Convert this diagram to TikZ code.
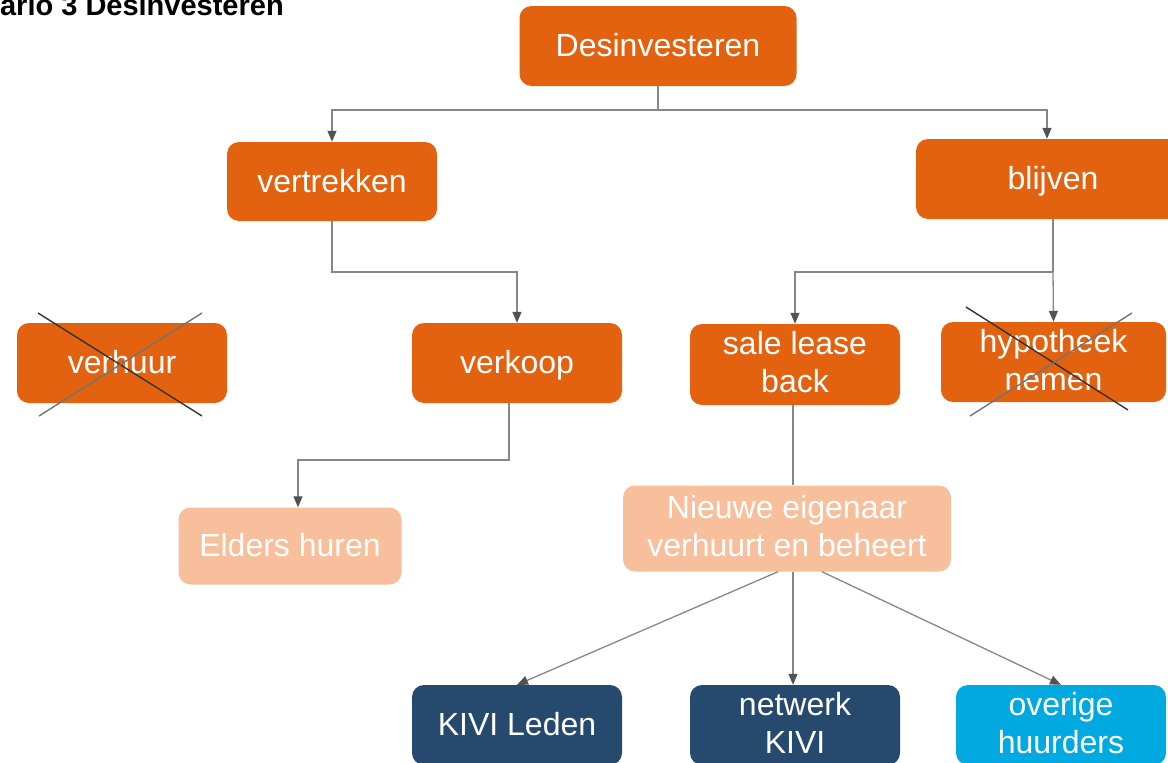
\documentclass[tikz,border=0pt]{standalone}
\usepackage{fontspec}
\setmainfont{Liberation Sans}
\usetikzlibrary{arrows.meta,calc}

\definecolor{boxorange}{RGB}{227,98,16}
\definecolor{boxpeach}{RGB}{247,191,155}
\definecolor{boxnavy}{RGB}{38,74,110}
\definecolor{boxcyan}{RGB}{0,169,224}
\definecolor{linegray}{RGB}{135,135,135}
\definecolor{tipgray}{RGB}{80,82,88}

\begin{document}
\begin{tikzpicture}[x=1pt,y=-1pt,
  box/.style={rounded corners=12pt, inner sep=0pt, text=white,
    font=\fontsize{32}{38}\selectfont, align=center,
    text height=25pt, text depth=4pt, minimum height=80pt},
  twoline/.style={text height=65pt, text depth=9pt},
  orangebox/.style={box, fill=boxorange},
  peachbox/.style={box, fill=boxpeach},
  navybox/.style={box, fill=boxnavy},
  cyanbox/.style={box, fill=boxcyan},
  plainlink/.style={draw=linegray, line width=1.3pt},
  link/.style={plainlink, -{Triangle[length=11pt,width=9pt,color=tipgray]}},
  crossdark/.style={draw=black!80, line width=1.4pt},
  crosslight/.style={draw=black!55, line width=1.4pt}
]
\path[use as bounding box] (0,0) rectangle (1168,763);
\clip (0,0) rectangle (1168,763);

% heading
\node[anchor=base east, inner sep=0pt, font=\bfseries\fontsize{29}{34}\selectfont]
  (title) at (284,15) {Scenario 3 Desinvesteren};

% boxes
\node[orangebox, minimum width=277pt] (des) at (658,46) {Desinvesteren};
\node[orangebox, minimum width=210pt, minimum height=79pt] (vert) at (332,181.5) {vertrekken};
\node[orangebox, minimum width=274pt] (blij) at (1053,179) {blijven};
\node[orangebox, minimum width=210pt] (verh) at (122,363) {verhuur};
\node[orangebox, minimum width=210pt] (verk) at (517,363) {verkoop};
\node[orangebox, twoline, minimum width=210pt, minimum height=81pt] (sale) at (795,364.5) {sale lease\\back};
\node[orangebox, twoline, minimum width=225pt] (hyp) at (1053.5,362) {hypotheek\\nemen};
\node[peachbox, minimum width=223pt, minimum height=77pt] (eld) at (290,546) {Elders huren};
\node[peachbox, twoline, minimum width=328pt, minimum height=86pt] (nieuw) at (787,528.5) {Nieuwe eigenaar\\verhuurt en beheert};
\node[navybox, minimum width=210pt] (kivi) at (517,725) {KIVI Leden};
\node[navybox, twoline, minimum width=210pt] (netw) at (795,725) {netwerk\\KIVI};
\node[cyanbox, twoline, minimum width=210pt] (over) at (1061,725) {overige\\huurders};

% junction points
\coordinate (j1) at (658,110);
\coordinate (j2) at (332,272);
\coordinate (j3) at (1053,272);
\coordinate (j4) at (509,460);

% connectors
\draw[plainlink] (des.south) -- (j1);
\draw[link] (j1) -| (vert.north);
\draw[link] (j1) -| ($(blij.north)+(-6,0)$);
\draw[link] (vert.south) -- (j2) -| (verk.north);
\draw[plainlink] (blij.south) -- (j3);
\draw[link] (j3) -| (sale.north);
\draw[link] (j3) -- (hyp.north);
\draw[link] ($(verk.south)+(-8,0)$) -- (j4) -| ($(eld.north)+(8,0)$);
\draw[plainlink] ($(sale.south)+(-2,0)$) -- ($(nieuw.north)+(6,0)$);
\draw[link] ($(nieuw.south)+(-9,0)$) -- (kivi.north);
\draw[link] ($(nieuw.south)+(6,0)$) -- ($(netw.north)+(-2,0)$);
\draw[link] ($(nieuw.south)+(35,0)$) -- (over.north);

% struck-out options
\draw[crossdark] (38,313) -- (202,416);
\draw[crosslight] (202,313) -- (39,416);
\draw[crossdark] (966,307) -- (1128,410);
\draw[crosslight] (1132,313) -- (970,416);
\end{tikzpicture}
\end{document}
